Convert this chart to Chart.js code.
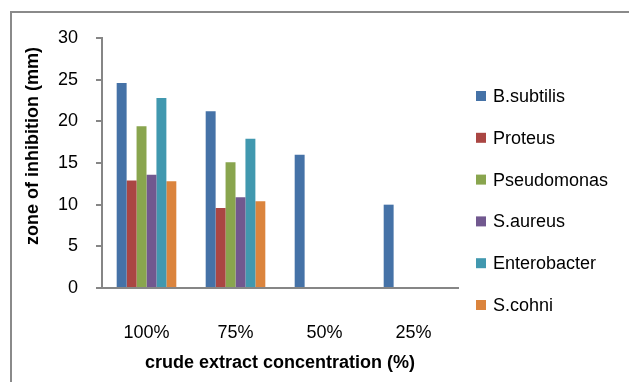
<!DOCTYPE html>
<html>
<head>
<meta charset="utf-8">
<script src="https://cdn.jsdelivr.net/npm/chart.js@4.4.0/dist/chart.umd.min.js"></script>
<style>
    html, body { margin: 0; padding: 0; background: #fff; }
    #wrap { width: 629px; height: 382px; }
</style>
</head>
<body>
<div id="wrap"><canvas id="zoneChart" width="629" height="382"></canvas></div>
<script>
    // Data
    const concentrations = ['100%', '75%', '50%', '25%'];
    const bSubtilis    = [24.6, 21.2, 16.0, 10.0];
    const proteus      = [12.9, 9.6, 0, 0];
    const pseudomonas  = [19.4, 15.1, 0, 0];
    const sAureus      = [13.6, 10.9, 0, 0];
    const enterobacter = [22.8, 17.9, 0, 0];
    const sCohni       = [12.8, 10.4, 0, 0];
    const yTicks = [0, 5, 10, 15, 20, 25, 30];

    const colors = {
        blue: '#4572a7',
        red: '#aa4643',
        green: '#89a54e',
        purple: '#71588f',
        teal: '#4198af',
        orange: '#db843d',
        axis: '#868686'
    };

    const font = 'Liberation Sans';

    // Outer frame, y title and legend are drawn by hand
    const extras = {
        id: 'extras',
        beforeDraw(chart) {
            const ctx = chart.ctx;
            ctx.save();
            ctx.strokeStyle = '#8a8a8a';
            ctx.lineWidth = 2;
            ctx.strokeRect(11, 12, 700, 500);
            ctx.restore();
        },
        afterDraw(chart) {
            const ctx = chart.ctx;
            ctx.save();
            ctx.fillStyle = '#000';
            ctx.font = 'bold 18px "' + font + '"';
            ctx.textAlign = 'center';
            ctx.textBaseline = 'middle';
            ctx.translate(33, 146);
            ctx.rotate(-Math.PI / 2);
            ctx.fillText('zone of inhibition (mm)', 0, 0);
            ctx.restore();

            ctx.save();
            ctx.font = '18px "' + font + '"';
            ctx.textAlign = 'left';
            ctx.textBaseline = 'middle';
            chart.data.datasets.forEach((ds, i) => {
                const y = 96 + i * 41.8;
                ctx.fillStyle = ds.backgroundColor;
                ctx.fillRect(476, y - 5, 10, 10);
                ctx.fillStyle = '#000';
                ctx.fillText(ds.label, 493, y + 1);
            });
            ctx.restore();
        }
    };

    const ctx = document.getElementById('zoneChart').getContext('2d');
    new Chart(ctx, {
        type: 'bar',
        data: {
            labels: concentrations,
            datasets: [
                { label: 'B.subtilis', data: bSubtilis, backgroundColor: colors.blue },
                { label: 'Proteus', data: proteus, backgroundColor: colors.red },
                { label: 'Pseudomonas', data: pseudomonas, backgroundColor: colors.green },
                { label: 'S.aureus', data: sAureus, backgroundColor: colors.purple },
                { label: 'Enterobacter', data: enterobacter, backgroundColor: colors.teal },
                { label: 'S.cohni', data: sCohni, backgroundColor: colors.orange }
            ]
        },
        options: {
            responsive: false,
            animation: false,
            categoryPercentage: 0.67,
            barPercentage: 1.0,
            layout: {
                padding: { top: 38, right: 171, bottom: 0, left: 0 }
            },
            plugins: {
                legend: { display: false },
                tooltip: { enabled: false }
            },
            scales: {
                x: {
                    grid: { display: false },
                    border: { display: true, color: colors.axis, width: 2 },
                    ticks: {
                        color: '#000',
                        padding: 26,
                        font: { family: font, size: 18 }
                    },
                    title: {
                        display: true,
                        text: 'crude extract concentration (%)',
                        color: '#000',
                        padding: { top: 0, bottom: 8 },
                        font: { family: font, size: 18, weight: 'bold' }
                    },
                    afterFit(scale) { scale.height = 94; }
                },
                y: {
                    min: 0,
                    max: 30,
                    afterBuildTicks(scale) {
                        scale.ticks = yTicks.map(v => ({ value: v }));
                    },
                    grid: {
                        drawOnChartArea: false,
                        drawTicks: true,
                        tickLength: 6,
                        color: colors.axis,
                        lineWidth: 2
                    },
                    border: { display: true, color: colors.axis, width: 2 },
                    ticks: {
                        color: '#000',
                        padding: 18,
                        font: { family: font, size: 18 }
                    },
                    afterFit(scale) { scale.width = 102; }
                }
            }
        },
        plugins: [extras]
    });
</script>
</body>
</html>
